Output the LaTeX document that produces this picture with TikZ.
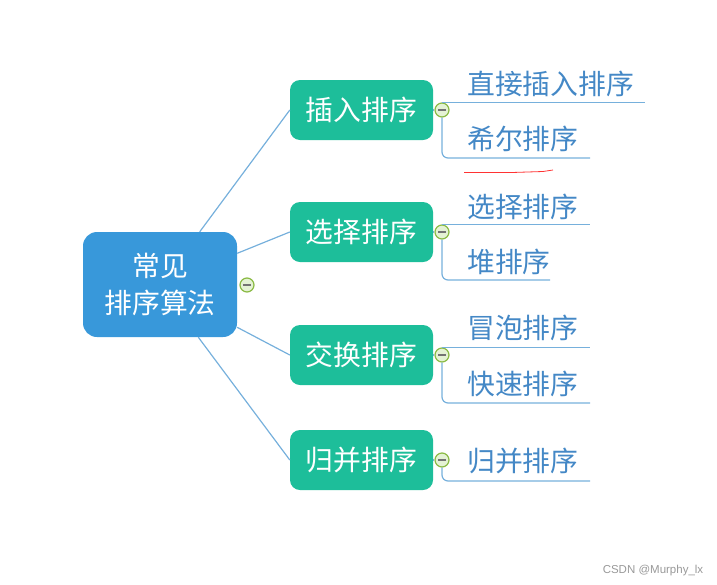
\documentclass[tikz,border=0pt]{standalone}
\usepackage{fontspec}
\usepackage{tikz}
\usetikzlibrary{positioning}
\setmainfont{Noto Sans CJK SC}
\newfontfamily\markfont{Liberation Sans}
\definecolor{rootblue}{RGB}{56,152,218}
\definecolor{catgreen}{RGB}{29,190,154}
\definecolor{linkblue}{RGB}{118,176,220}
\definecolor{leafblue}{RGB}{68,136,198}
\definecolor{foldgreen}{RGB}{138,186,68}
\definecolor{foldfill}{RGB}{228,242,212}

\begin{document}
\begin{tikzpicture}[x=1pt,y=-1pt,font=\fontsize{27.8}{37}\selectfont,
  root/.style={fill=rootblue,rounded corners=14pt,minimum width=154pt,minimum height=105pt,
    text=white,align=center,inner sep=0pt},
  cat/.style={fill=catgreen,rounded corners=10pt,minimum width=143pt,minimum height=60pt,
    text=white,inner sep=0pt},
  leaf/.style={anchor=west,text=leafblue,inner sep=0pt},
  fold/.style={circle,draw=foldgreen,fill=foldfill,line width=1.2pt,minimum size=14pt,inner sep=0pt,
    path picture={\draw[line width=1.6pt,black!55] ([xshift=-4pt]path picture bounding box.center)
      -- ([xshift=4pt]path picture bounding box.center);}},
  link/.style={draw=linkblue,line width=1.2pt}]
  \useasboundingbox (0,0) rectangle (717,584);
  % root
  \node[root] (root) at (160,284.5) {常见\\排序算法};
  % categories
  \node[cat] (ins) at (361.5,110) {插入排序};
  \node[cat] (sel) at (361.5,232) {选择排序};
  \node[cat] (swp) at (361.5,355) {交换排序};
  \node[cat] (mrg) at (361.5,460) {归并排序};
  \draw[link] (root.53) -- (ins.west);
  \draw[link] (root.22) -- (sel.west);
  \draw[link] (root.-29) -- (swp.west);
  \draw[link] (root.-54) -- (mrg.west);
  \node[fold] (f0) at (247,285) {};
  % fold buttons
  \node[fold] (f1) at (442,110) {};
  \node[fold] (f2) at (442,232) {};
  \node[fold] (f3) at (442,355) {};
  \node[fold] (f4) at (442,460) {};
  \draw[link] (ins.east) -- (f1.west) (sel.east) -- (f2.west)
    (swp.east) -- (f3.west) (mrg.east) -- (f4.west);
  % leaves
  \node[leaf] (l11) at (467,84) {直接插入排序};
  \node[leaf] (l12) at (467,139) {希尔排序};
  \node[leaf] (l21) at (467,207) {选择排序};
  \node[leaf] (l22) at (467,262) {堆排序};
  \node[leaf] (l31) at (467,328) {冒泡排序};
  \node[leaf] (l32) at (467,384) {快速排序};
  \node[leaf] (l41) at (467,461) {归并排序};
  \coordinate (u11) at (645,103);
  \coordinate (u12) at (590,158);
  \coordinate (u21) at (590,226);
  \coordinate (u22) at (550,280);
  \coordinate (u31) at (590,349);
  \coordinate (u32) at (590,403);
  \coordinate (u41) at (590,481);
  % branch lines
  \draw[link] (f1.north) -- (f1.north -| u11);
  \draw[link,rounded corners=6pt] (f1.south) -- (f1.south |- u12) -- (u12);
  \draw[link] (f2.north) -- (f2.north -| u21);
  \draw[link,rounded corners=6pt] (f2.south) -- (f2.south |- u22) -- (u22);
  \draw[link] (f3.north) -- (f3.north -| u31);
  \draw[link,rounded corners=6pt] (f3.south) -- (f3.south |- u32) -- (u32);
  \draw[link,rounded corners=6pt] (f4.south) -- (f4.south |- u41) -- (u41);
  % red mark
  \draw[red!80,line width=0.8pt] (464,172.5) -- (512,172.5) -- (543,171.5) -- (553,170);
  \node[text=black!40,font=\markfont\fontsize{11.5}{13}\selectfont] (mark) at (653,571) {CSDN @Murphy\_lx};
\end{tikzpicture}
\end{document}
